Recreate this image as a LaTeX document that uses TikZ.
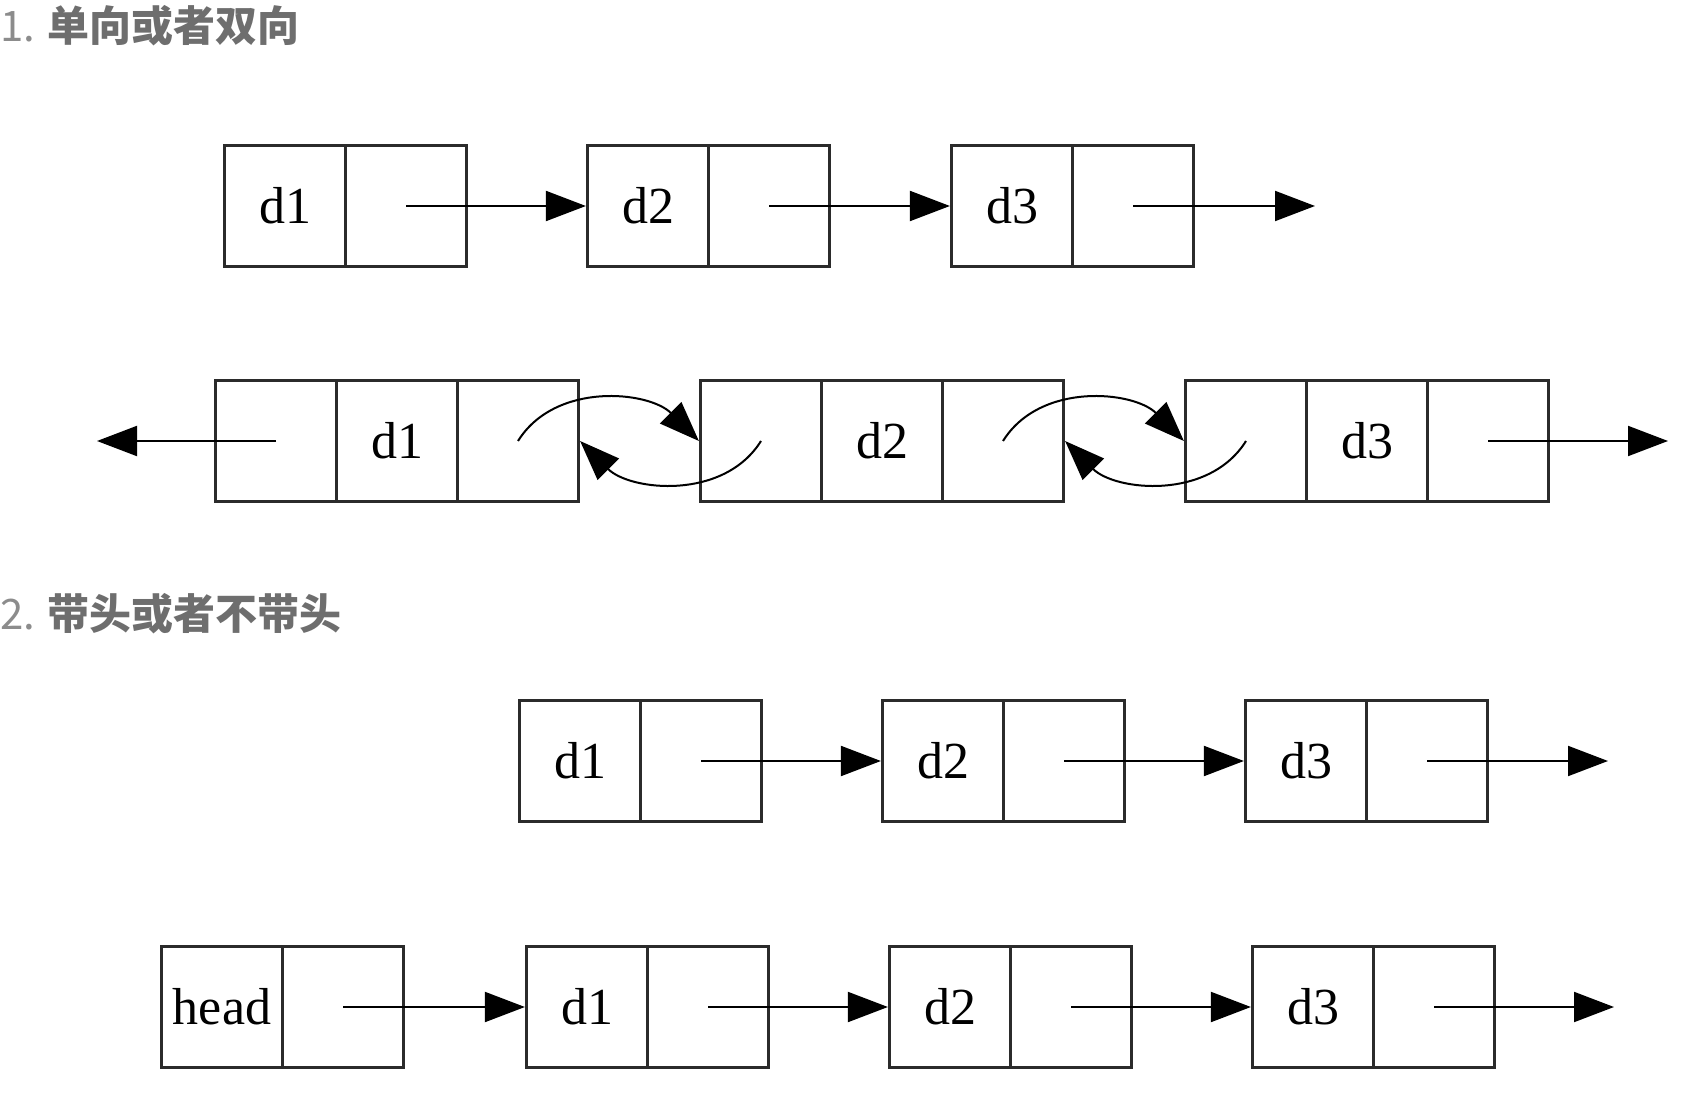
\documentclass[tikz,border=0pt]{standalone}
\usepackage{fontspec}
\usepackage{tikz}
\usetikzlibrary{arrows.meta}
\newfontfamily\cjk{Noto Sans CJK SC}
\newfontfamily\cellfont{Liberation Serif}
\definecolor{ink}{HTML}{2B2B2B}
\definecolor{numgray}{HTML}{8C8C8C}
\definecolor{titlegray}{HTML}{6E6E6E}
\tikzset{
  cell/.style={rectangle, draw=ink, line width=1.6pt, minimum width=60.5pt, minimum height=60.5pt,
               inner sep=0pt, font=\cellfont\fontsize{26}{26}\selectfont},
  link/.style={-{Triangle[length=20pt,width=15pt]}, draw=black, line width=1pt},
  title/.style={anchor=west, inner sep=0pt, font=\cjk\fontsize{21}{21}\selectfont},
}

\begin{document}
\begin{tikzpicture}[x=0.5pt,y=0.5pt]
\useasboundingbox (0,0) rectangle (1687,1100);

\node[title] (t1) at (0,1074) {\textcolor{numgray}{1.} \textcolor{titlegray}{\bfseries 单向或者双向}};

% one-way list
\foreach \i/\x in {1/285,2/648,3/1012} {
  \node[cell] (sd\i) at (\x,894) {d\i};
  \node[cell] (sp\i) at (\x+121,894) {};
}
\coordinate (send) at (1315,894);
\draw[link] (sp1.center) -- (sd2.west);
\draw[link] (sp2.center) -- (sd3.west);
\draw[link] (sp3.center) -- (send);

% two-way list
\foreach \i/\x in {1/276,2/761,3/1246} {
  \node[cell] (dp\i) at (\x,659) {};
  \node[cell] (dd\i) at (\x+121,659) {d\i};
  \node[cell] (dn\i) at (\x+242,659) {};
}
\coordinate (dstart) at (97,659);
\coordinate (dend) at (1668,659);
\draw[link] (dp1.center) -- (dstart);
\draw[link] (dn3.center) -- (dend);
\foreach \i/\j in {1/2,2/3} {
  \draw[link] (dn\i.center) to[out=58,in=135] (dp\j.west);
  \draw[link] (dp\j.center) to[out=238,in=-45] (dn\i.east);
}

\node[title] (t2) at (0,486) {\textcolor{numgray}{2.} \textcolor{titlegray}{\bfseries 带头或者不带头}};

% without head
\foreach \i/\x in {1/580,2/943,3/1306} {
  \node[cell] (nd\i) at (\x,339) {d\i};
  \node[cell] (np\i) at (\x+121,339) {};
}
\coordinate (nend) at (1608,339);
\draw[link] (np1.center) -- (nd2.west);
\draw[link] (np2.center) -- (nd3.west);
\draw[link] (np3.center) -- (nend);

% with head
\node[cell] (head) at (222,93) {head};
\node[cell] (headp) at (343,93) {};
\foreach \i/\x in {1/587,2/950,3/1313} {
  \node[cell] (hd\i) at (\x,93) {d\i};
  \node[cell] (hp\i) at (\x+121,93) {};
}
\coordinate (hend) at (1614,93);
\draw[link] (headp.center) -- (hd1.west);
\draw[link] (hp1.center) -- (hd2.west);
\draw[link] (hp2.center) -- (hd3.west);
\draw[link] (hp3.center) -- (hend);
\end{tikzpicture}
\end{document}
